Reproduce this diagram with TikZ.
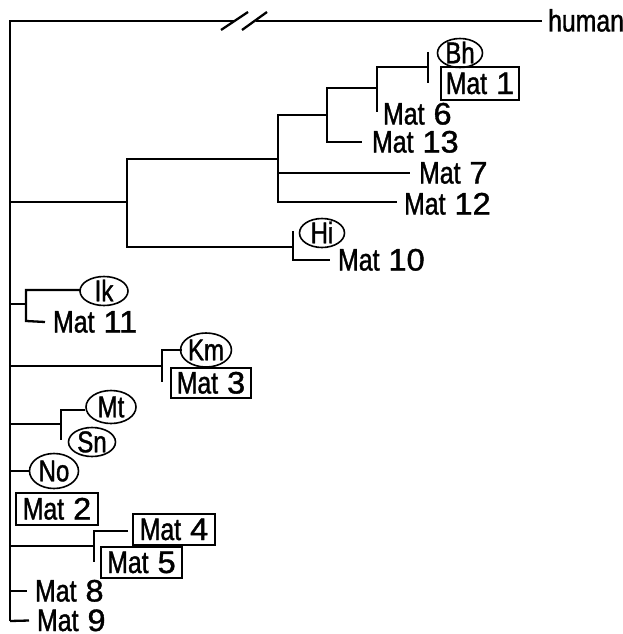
\documentclass[tikz,border=0pt]{standalone}
\usepackage{fontspec}
\setmainfont{Liberation Sans}[FakeStretch=0.8,FakeBold=1.2]
\newfontfamily\digf{Liberation Sans}[FakeStretch=1.05,FakeBold=1.2]
\usetikzlibrary{shapes.geometric}
\begin{document}
\begin{tikzpicture}[x=1pt,y=-1pt,line width=2.3pt,
  lbl/.style={anchor=west,inner xsep=7pt,inner ysep=0pt,text height=21pt,text depth=0pt,font=\fontsize{31}{33}\selectfont},
  ell/.style={ellipse,draw,line width=1.6pt,inner sep=0pt,text height=20.5pt,text depth=0pt,font=\fontsize{30}{32}\selectfont},
  boxn/.style={rectangle,draw,line width=1.8pt,inner sep=0pt,text height=21pt,text depth=0pt,font=\fontsize{31}{33}\selectfont}]
\useasboundingbox (0,0) rectangle (623,634);
\newcommand\mname[1]{Mat\hspace{9pt}{\digf #1}}
% root and internal points
\coordinate (r0) at (10,21);
\coordinate (r1) at (10,621);
\coordinate (bk1) at (234.5,21);
\coordinate (bk2) at (255.5,21);
\coordinate (a) at (127,202);
\coordinate (b) at (278,159);
\coordinate (c) at (327,115);
\coordinate (d) at (377,88);
\coordinate (e) at (428,67);
\coordinate (e6) at (377,112);
\coordinate (hv) at (293,247);
\coordinate (ik) at (26,304);
\coordinate (km) at (162,366);
\coordinate (mt) at (61,424);
\coordinate (m45) at (94,546);
% leaves
\node[lbl,inner xsep=5pt] (human) at (542,21) {human};
\node[ell,minimum width=45pt,minimum height=23pt] (bh) at (460,53) {Bh};
\node[boxn,minimum width=78pt,minimum height=33pt] (m1) at (480,83.5) {\mname{1}};
\node[lbl,inner xsep=0pt] (m6) at (382,114) {\mname{6}};
\node[lbl,inner xsep=9pt] (m13) at (362,142) {\mname{13}};
\node[lbl,inner xsep=8pt] (m7) at (410,173) {\mname{7}};
\node[lbl,inner xsep=6pt] (m12) at (397,204) {\mname{12}};
\node[ell,minimum width=45pt,minimum height=22pt] (hi) at (322,233) {Hi};
\node[lbl] (m10) at (330,260) {\mname{10}};
\node[ell,minimum width=48pt,minimum height=28pt] (ikn) at (104,291) {Ik};
\node[lbl] (m11) at (45,322) {\mname{11}};
\node[ell,minimum width=49pt,minimum height=34pt] (kmn) at (206,350) {Km};
\node[boxn,minimum width=80pt,minimum height=30pt] (m3) at (211,383) {\mname{3}};
\node[ell,minimum width=50pt,minimum height=33pt] (mtn) at (111,407) {Mt};
\node[ell,minimum width=47pt,minimum height=29pt] (sn) at (92,442) {Sn};
\node[ell,minimum width=49pt,minimum height=35pt] (no) at (54,471) {No};
\node[boxn,minimum width=82pt,minimum height=32pt] (m2) at (57,509) {\mname{2}};
\node[boxn,minimum width=82pt,minimum height=31pt] (m4) at (174,529.5) {\mname{4}};
\node[boxn,minimum width=81pt,minimum height=31pt] (m5) at (141.5,562.5) {\mname{5}};
\node[lbl] (m8) at (27,591) {\mname{8}};
\node[lbl] (m9) at (29,620.5) {\mname{9}};
% root
\draw (r1) -- (r0) -- (bk1);
\draw (bk2) -- (human.west);
\draw (221,30) -- (248,12) (242,30) -- (267,12);
% big clade
\draw (10,202) -- (a);
\draw (b) -| (127,247) -- (hv);
\draw (c) -| (278,202) -- (397,202);
\draw (278,173) -- (m7.west);
\draw (d) -| (327,142) -- (m13.west);
\draw (e) -| (e6);
\draw (428,52) -- (428,83);
\draw (293,231) -- (293,260) -- (m10.west);
% Ik
\draw (10,304) -- (ik);
\draw (80,290) -| (26,321) -- (m11.west);
% Km
\draw (10,366) -- (km);
\draw (182,350) -| (162,382);
% Mt Sn
\draw (10,424) -- (mt);
\draw (85,410) -| (61,440);
% No
\draw (10,471) -- (no.west);
% Mat 4 5
\draw (10,546) -- (m45);
\draw (128,531) -| (94,562);
% Mat 8 9
\draw (10,591) -- (m8.west);
\draw (r1) -- (m9.west);
\end{tikzpicture}
\end{document}
